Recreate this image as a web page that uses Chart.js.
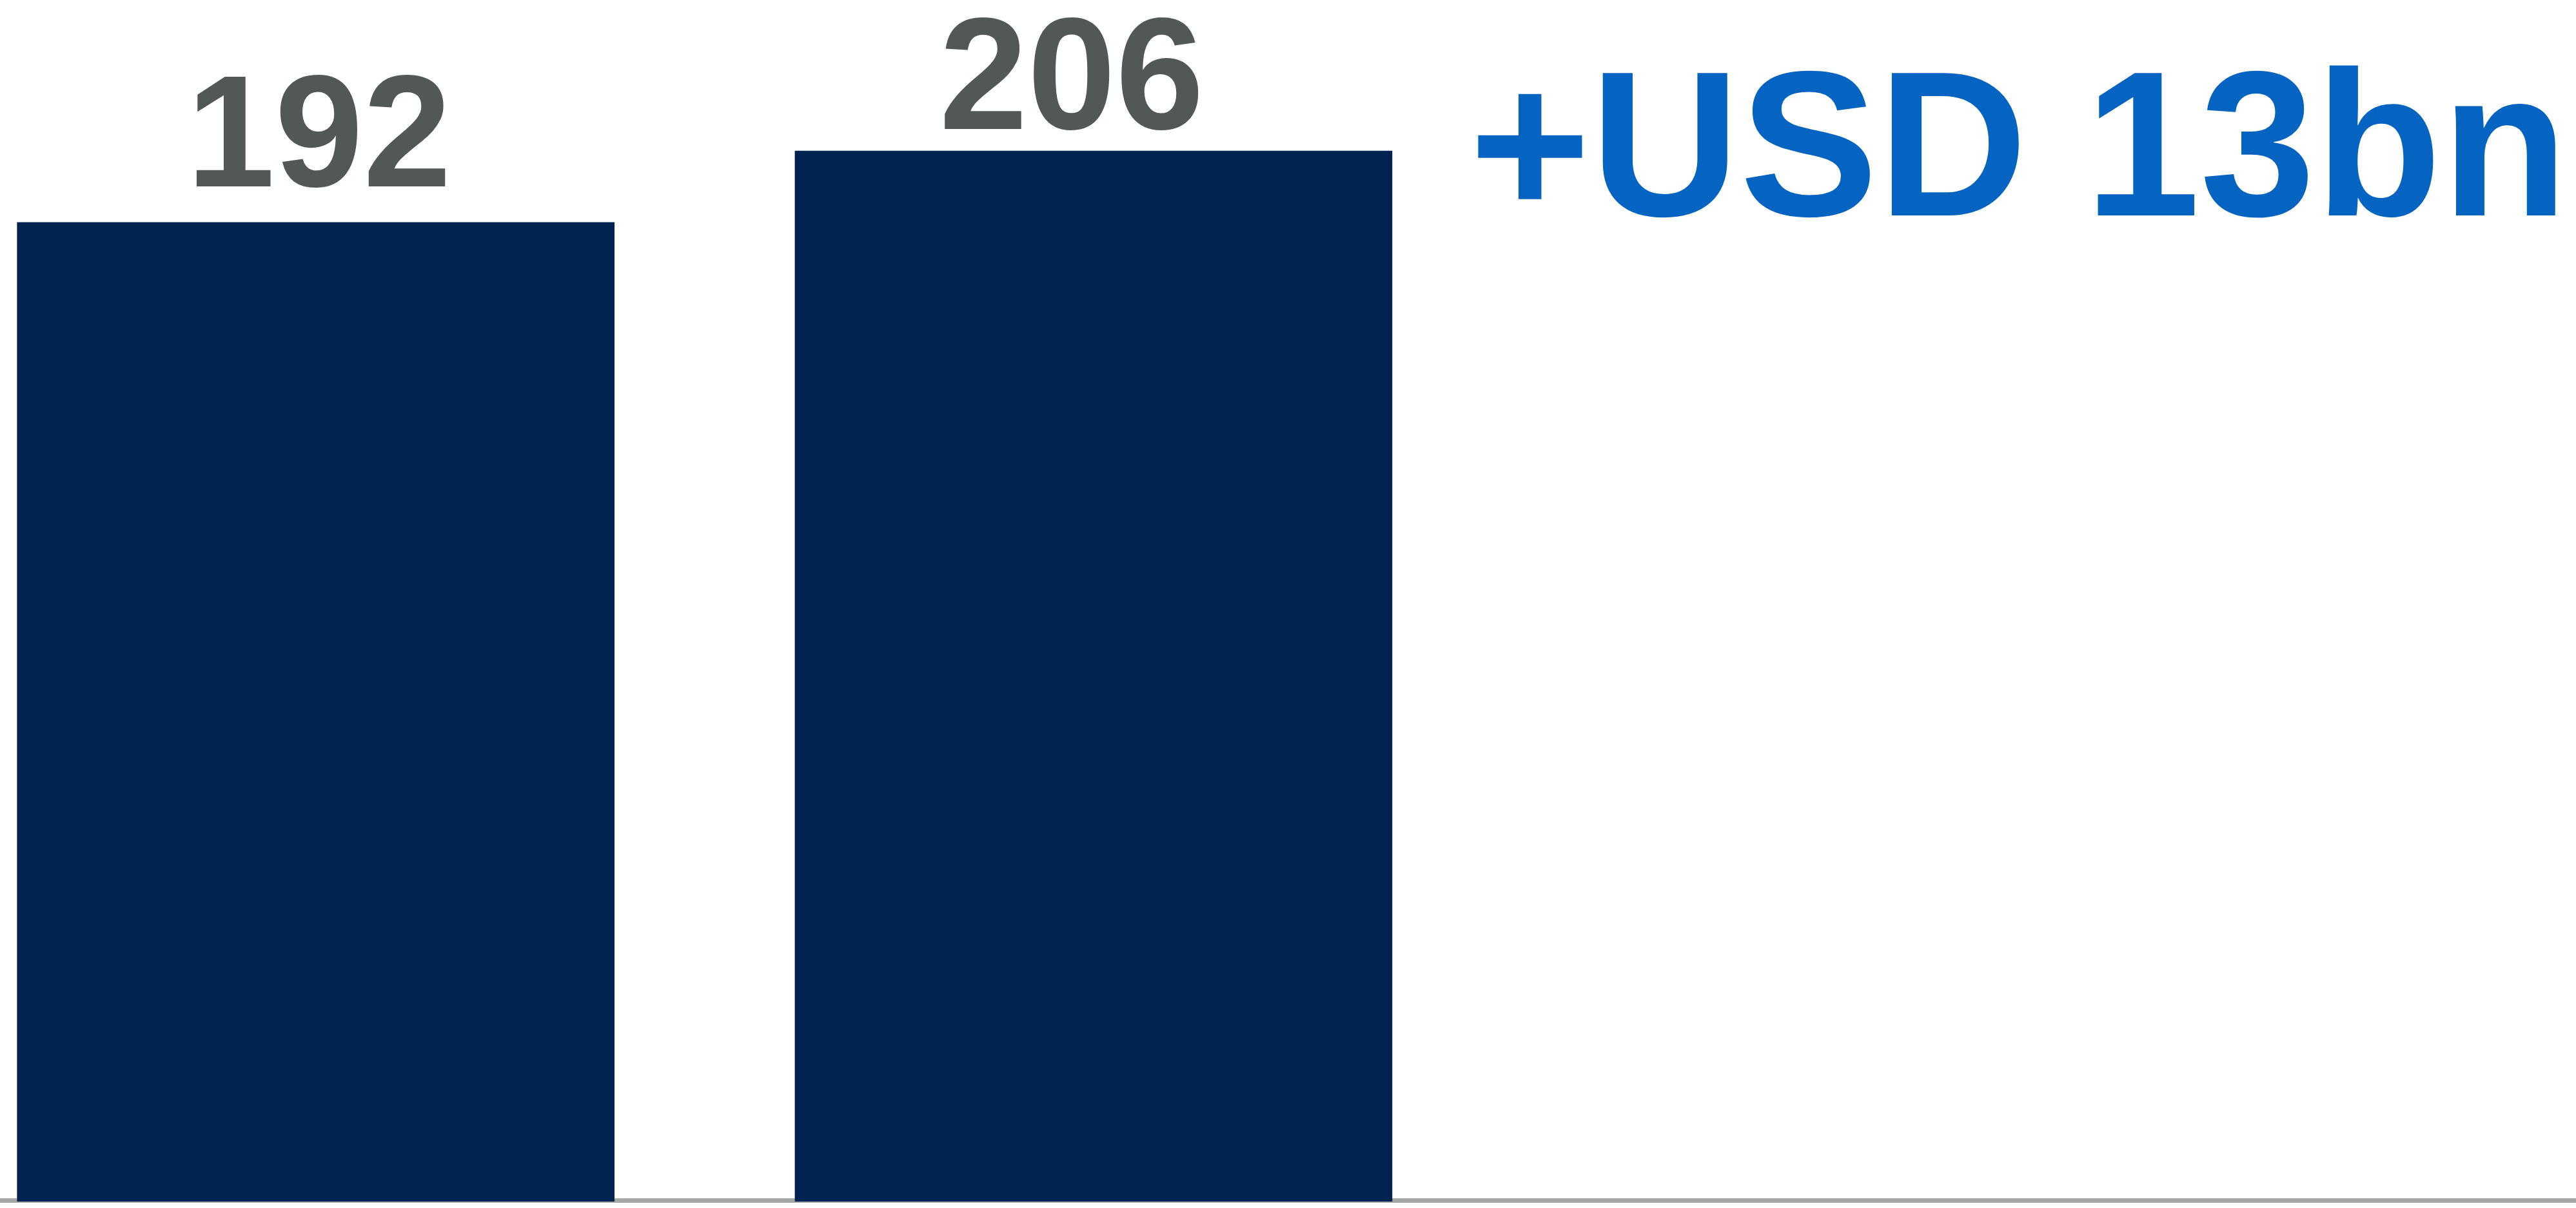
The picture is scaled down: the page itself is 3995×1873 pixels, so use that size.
<!DOCTYPE html>
<html>
<head>
<meta charset="utf-8">
<script src="https://cdn.jsdelivr.net/npm/chart.js@4/dist/chart.umd.min.js"></script>
<style>
  html, body { margin: 0; padding: 0; background: #ffffff; }
  #wrap { width: 3995px; height: 1873px; position: relative; }
</style>
</head>
<body>
<div id="wrap"><canvas id="growthChart"></canvas></div>
<script>
// values (USD bn)
const periods = ["Before", "After"];
const barSlots = [0, 1];
const totals = [192, 206];
const deltaText = "+USD 13bn";

const navy = "#002350";
const labelGrey = "#525858";
const deltaBlue = "#0563C1";
const baseGrey = "#A5A8A7";
const fontFamily = "'Liberation Sans', Arial, sans-serif";

// value labels above each bar + the delta call-out
const barLabels = {
  id: "barLabels",
  afterDatasetsDraw(chart, args, opts) {
    const ctx = chart.ctx;
    const meta = chart.getDatasetMeta(0);
    ctx.save();
    ctx.font = "bold 246px " + fontFamily;
    ctx.fillStyle = labelGrey;
    ctx.textAlign = "center";
    ctx.textBaseline = "alphabetic";
    meta.data.forEach((bar, i) => {
      ctx.fillText(String(totals[i]), bar.x + opts.nudgeX[i], bar.y - opts.lift[i]);
    });
    ctx.font = "bold 321px " + fontFamily;
    ctx.fillStyle = deltaBlue;
    ctx.textAlign = "left";
    ctx.fillText(deltaText, 2279, 334);
    ctx.restore();
  }
};

// grey baseline under the bars, full width
const baseLine = {
  id: "baseLine",
  beforeDatasetsDraw(chart) {
    const ctx = chart.ctx;
    const y = chart.scales.y.getPixelForValue(0);
    ctx.save();
    ctx.fillStyle = baseGrey;
    ctx.fillRect(0, y - 5, chart.width, 7);
    ctx.restore();
  }
};

new Chart(document.getElementById("growthChart"), {
  type: "bar",
  data: {
    datasets: [{
      label: "Total",
      data: barSlots.map((x, i) => ({ x: x, y: totals[i], name: periods[i] })),
      backgroundColor: navy,
      borderWidth: 0,
      barThickness: 926
    }]
  },
  options: {
    responsive: true,
    maintainAspectRatio: false,
    animation: false,
    layout: { padding: { top: 0, bottom: 10, left: 0, right: 0 } },
    plugins: {
      legend: { display: false },
      tooltip: { enabled: false },
      barLabels: { nudgeX: [5, -34], lift: [56, 34] }
    },
    scales: {
      x: { type: "linear", display: false, offset: false, min: -0.406, max: 2.906 },
      y: { display: false, min: 0, max: 235.6 }
    }
  },
  plugins: [baseLine, barLabels]
});
</script>
</body>
</html>
